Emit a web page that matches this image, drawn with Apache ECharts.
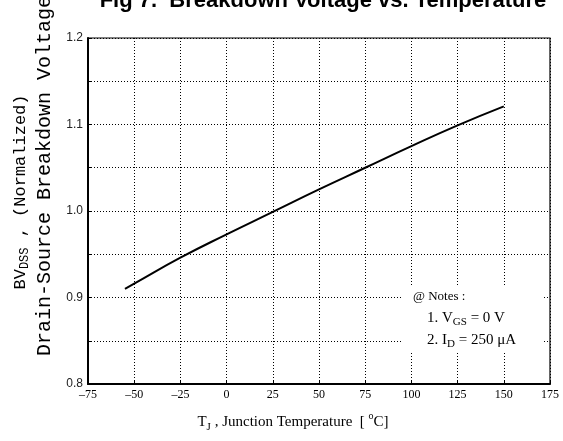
<!DOCTYPE html>
<html>
<head>
<meta charset="utf-8">
<script src="https://cdn.jsdelivr.net/npm/echarts@6/dist/echarts.min.js"></script>
<style>html,body{margin:0;padding:0;background:#fff}#c{width:563px;height:441px}</style>
</head>
<body>
<div id="c"></div>
<script>
var temperatures = [-55, -50, -25, 0, 25, 50, 75, 100, 125, 150];
var bvdss = [0.910, 0.916, 0.946, 0.973, 0.999, 1.025, 1.050, 1.075, 1.099, 1.121];
var xTicks = [-75, -50, -25, 0, 25, 50, 75, 100, 125, 150, 175];
var yTicks = [0.8, 0.9, 1.0, 1.1, 1.2];
var titleText = 'Fig 7.  Breakdown Voltage vs. Temperature';

var chart = echarts.init(document.getElementById('c'), null, {renderer: 'canvas'});
var pts = temperatures.map(function (t, i) { return [t, bvdss[i]]; });
var dotted = {color: '#000', width: 1, type: [1, 2]};
var sansF = '"Liberation Sans", Arial, sans-serif';
var serifF = '"Liberation Serif", "Times New Roman", serif';
var monoF = '"Liberation Mono", "Courier New", monospace';

chart.setOption({
  animation: false,
  backgroundColor: '#fff',
  grid: {left: 88, right: 13, top: 38, bottom: 57, show: true, borderColor: '#000', borderWidth: 1.2, backgroundColor: 'transparent'},
  xAxis: {
    type: 'value', min: -75, max: 175, interval: 25,
    axisLine: {show: true, onZero: false, lineStyle: {color: '#000', width: 2}},
    axisTick: {show: true, inside: true, length: 4, lineStyle: {color: '#000'}},
    splitLine: {show: true, lineStyle: dotted},
    axisLabel: {
      margin: 5, color: '#000', fontFamily: serifF, fontSize: 12,
      formatter: function (v) { return xTicks.indexOf(v) >= 0 ? String(v).replace('-', '\u2013') : ''; }
    }
  },
  yAxis: {
    type: 'value', min: 0.8, max: 1.2, interval: 0.05,
    axisLine: {show: true, onZero: false, lineStyle: {color: '#000', width: 2}},
    axisTick: {show: true, inside: true, length: 4, lineStyle: {color: '#000'}},
    splitLine: {show: true, lineStyle: dotted},
    axisLabel: {
      margin: 5, color: '#222', fontFamily: sansF, fontSize: 12,
      formatter: function (v) {
        for (var i = 0; i < yTicks.length; i++) { if (Math.abs(yTicks[i] - v) < 1e-6) return yTicks[i].toFixed(1); }
        return '';
      }
    }
  },
  series: [{
    type: 'line', data: pts, smooth: 0.5, showSymbol: false, symbol: 'none',
    lineStyle: {color: '#000', width: 2}, z: 5
  }],
  graphic: [
    {type: 'text', x: 323, y: 12, z: 20, style: {text: titleText, font: 'bold 22px ' + sansF, fill: '#000', align: 'center', verticalAlign: 'bottom'}},
    {type: 'text', x: 20, y: 192, rotation: Math.PI / 2, z: 20, style: {
      text: '{n|BV}{s|DSS}{n| , (Normalized)}', align: 'center', verticalAlign: 'middle',
      rich: {n: {fontFamily: monoF, fontSize: 17, lineHeight: 22, verticalAlign: 'middle', fill: '#000'},
             s: {fontFamily: monoF, fontSize: 12, lineHeight: 12, verticalAlign: 'bottom', fill: '#000'}}
    }},
    {type: 'text', x: 45, y: 176, rotation: Math.PI / 2, z: 20, style: {
      text: 'Drain-Source Breakdown Voltage', align: 'center', verticalAlign: 'middle',
      font: '20px ' + monoF, fill: '#000'
    }},
    {type: 'text', x: 293, y: 422, z: 20, style: {
      text: '{n|T}{s|J}{n| , Junction Temperature  [ }{s2|o}{n|C]}', align: 'center', verticalAlign: 'middle',
      rich: {n: {fontFamily: serifF, fontSize: 15, lineHeight: 22, verticalAlign: 'middle', fill: '#000'},
             s: {fontFamily: serifF, fontSize: 11, lineHeight: 10, verticalAlign: 'bottom', fill: '#000'},
             s2: {fontFamily: serifF, fontSize: 10, lineHeight: 9, verticalAlign: 'top', fill: '#000'}}
    }},
    {type: 'rect', shape: {x: 403, y: 287, width: 140, height: 64}, z: 10, style: {fill: '#fff'}},
    {type: 'text', x: 413, y: 297, z: 20, style: {text: '@ Notes :', font: '13px ' + serifF, fill: '#000', align: 'left', verticalAlign: 'middle'}},
    {type: 'text', x: 427, y: 318, z: 20, style: {
      text: '{n|1. V}{s|GS}{n| = 0 V}', align: 'left', verticalAlign: 'middle',
      rich: {n: {fontFamily: serifF, fontSize: 15, lineHeight: 20, verticalAlign: 'middle', fill: '#000'},
             s: {fontFamily: serifF, fontSize: 11, lineHeight: 10, verticalAlign: 'bottom', fill: '#000'}}
    }},
    {type: 'text', x: 427, y: 340, z: 20, style: {
      text: '{n|2. I}{s|D}{n| = 250 \u03bcA}', align: 'left', verticalAlign: 'middle',
      rich: {n: {fontFamily: serifF, fontSize: 15, lineHeight: 20, verticalAlign: 'middle', fill: '#000'},
             s: {fontFamily: serifF, fontSize: 11, lineHeight: 10, verticalAlign: 'bottom', fill: '#000'}}
    }}
  ]
});
</script>
</body>
</html>
